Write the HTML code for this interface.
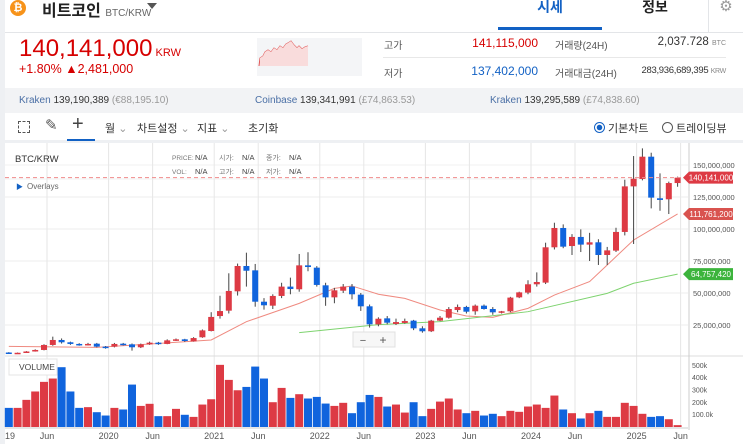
<!DOCTYPE html>
<html><head><meta charset="utf-8">
<style>
*{margin:0;padding:0;box-sizing:border-box}
body{width:743px;height:444px;overflow:hidden;background:#fff;font-family:"Liberation Sans","Noto Sans CJK KR",sans-serif;position:relative;color:#333}
.a{position:absolute;white-space:nowrap}
</style></head><body>
<div class="a" style="left:0;top:0;width:5px;height:444px;background:#eef0f3"></div>
<div class="a" style="left:5px;top:0;width:738px;height:33px;border-bottom:1px solid #e3e5e8"></div>
<div class="a" style="left:10px;top:0;width:16px;height:16px;border-radius:50%;background:#f7931a;color:#fff;font-size:11px;font-weight:bold;text-align:center;line-height:16px">₿</div>
<div class="a" style="left:42px;top:-3px;font-size:16px;font-weight:bold;color:#222">비트코인 <span style="font-size:10px;font-weight:normal;color:#666">BTC/KRW</span></div>
<div class="a" style="left:147px;top:3px;width:0;height:0;border-left:5px solid transparent;border-right:5px solid transparent;border-top:6px solid #555"></div>
<div class="a" style="left:498px;top:-3px;width:104px;height:33px;text-align:center;font-size:14px;font-weight:bold;color:#1261c4;border-bottom:3px solid #1261c4">시세</div>
<div class="a" style="left:605px;top:-3px;width:100px;text-align:center;font-size:14px;font-weight:bold;color:#222">정보</div>
<div class="a" style="left:708px;top:0;width:35px;height:33px;border-left:1px solid #e3e5e8;text-align:center;font-size:15px;color:#999;line-height:14px">⚙</div>

<div class="a" style="left:19px;top:35px;font-size:24px;color:#d60000">140,141,000<span style="font-size:11px"> KRW</span></div>
<div class="a" style="left:19px;top:62px;font-size:12.5px;color:#d60000">+1.80% ▲2,481,000</div>
<svg class="a" style="left:257px;top:38px" width="105" height="38"><rect width="105" height="38" fill="#f4f5f7"/><polyline points="2,28 3,20 6,18 8,14 11,12 14,14 17,10 20,12 23,8 26,10 29,6 31,5 34,3 37,7 40,10 42,8 45,11 48,9 51,8" fill="#fbe4e4" stroke="#e05555" stroke-width="1"/><polygon points="3,20 6,18 8,14 11,12 14,14 17,10 20,12 23,8 26,10 29,6 31,5 34,3 37,7 40,10 42,8 45,11 48,9 51,8 51,28 3,28" fill="#f9dcdc"/></svg>
<div class="a" style="left:384px;top:37px;font-size:10px;color:#555">고가</div>
<div class="a" style="left:440px;top:36px;width:98px;text-align:right;font-size:12px;color:#d60000">141,115,000</div>
<div class="a" style="left:555px;top:37px;font-size:10px;color:#555">거래량(24H)</div>
<div class="a" style="left:600px;top:36px;width:126px;text-align:right;font-size:11.5px;color:#333">2,037.728 <span style="font-size:7px;color:#888">BTC</span></div>
<div class="a" style="left:383px;top:57px;width:343px;height:1px;background:#e8e8e8"></div>
<div class="a" style="left:384px;top:65px;font-size:10px;color:#555">저가</div>
<div class="a" style="left:440px;top:64px;width:98px;text-align:right;font-size:12px;color:#1261c4">137,402,000</div>
<div class="a" style="left:555px;top:65px;font-size:10px;color:#555">거래대금(24H)</div>
<div class="a" style="left:580px;top:65px;width:146px;text-align:right;font-size:9.5px;color:#333;letter-spacing:-0.3px">283,936,689,395 <span style="font-size:7px;color:#888">KRW</span></div>

<div class="a" style="left:5px;top:88px;width:738px;height:25px;background:#f2f3f5"></div>
<div class="a" style="left:19px;top:95px;font-size:10px;color:#4a6fa5">Kraken <span style="color:#333">139,190,389</span> <span style="color:#999">(€88,195.10)</span></div>
<div class="a" style="left:255px;top:95px;font-size:10px;color:#4a6fa5">Coinbase <span style="color:#333">139,341,991</span> <span style="color:#999">(£74,863.53)</span></div>
<div class="a" style="left:490px;top:95px;font-size:10px;color:#4a6fa5">Kraken <span style="color:#333">139,295,589</span> <span style="color:#999">(£74,838.60)</span></div>

<div class="a" style="left:5px;top:113px;width:738px;height:30px;border-bottom:3px solid #eef0f3"></div>
<div class="a" style="left:18px;top:121px;width:12px;height:12px;border:1.5px dashed #555"></div>
<div class="a" style="left:45px;top:116px;font-size:15px;color:#555">✎</div>
<div class="a" style="left:72px;top:113px;font-size:20px;color:#444">+</div>
<div class="a" style="left:67px;top:139px;width:28px;height:2px;background:#1261c4"></div>
<div class="a" style="left:105px;top:120px;font-size:11px;color:#333">월 <span style="color:#999">⌄</span></div>
<div class="a" style="left:137px;top:120px;font-size:11px;color:#333">차트설정 <span style="color:#999">⌄</span></div>
<div class="a" style="left:197px;top:120px;font-size:11px;color:#333">지표 <span style="color:#999">⌄</span></div>
<div class="a" style="left:248px;top:120px;font-size:11px;color:#333">초기화</div>
<div class="a" style="left:594px;top:120px;font-size:11px;color:#333"><span style="display:inline-block;width:11px;height:11px;border:1.5px solid #1261c4;border-radius:50%;vertical-align:-1px;background:radial-gradient(#1261c4 2.5px,#fff 3px)"></span> 기본차트</div>
<div class="a" style="left:662px;top:120px;font-size:11px;color:#333"><span style="display:inline-block;width:11px;height:11px;border:1.5px solid #555;border-radius:50%;vertical-align:-1px"></span> 트레이딩뷰</div>

<svg id="chart" class="a" style="left:0;top:0" width="743" height="444"></svg>

<script>
const months = Array.from({length:77},(_,i)=>i); // Jan 2019 .. May 2025
const opens  = [3.5,2.9,3.3,4.3,5.5,9.4,13.3,11.5,10.2,9.6,10.4,8.1,8.1,10.4,9.9,7.6,9.9,11.2,10.2,13.0,13.8,12.2,15.4,20.3,32.0,36.2,51.3,71.1,67.7,43.2,40.1,47.7,55.0,52.9,71.6,69.8,56.0,46.6,51.8,55.0,48.7,39.6,25.5,30.2,25.8,26.6,28.4,22.4,20.1,28.4,30.7,36.7,39.1,35.7,40.1,37.5,34.6,35.7,46.6,50.3,56.8,58.1,85.7,100.8,86.7,93.8,87.8,89.6,79.7,83.1,97.7,133.3,139.1,156.5,124.0,123.2,135.9];
const closes = [2.9,3.3,4.3,5.5,9.4,13.3,11.5,10.2,9.6,10.2,8.1,7.0,10.2,9.9,7.6,9.9,11.2,10.2,13.0,13.8,12.5,14.8,20.8,31.3,35.9,51.6,71.1,67.4,43.2,40.4,47.7,55.0,53.1,71.6,70.3,56.3,46.6,52.1,55.0,49.0,39.6,25.5,29.9,26.8,27.3,28.1,22.4,20.1,28.4,30.7,37.5,39.1,35.4,40.1,37.5,34.9,35.7,46.4,50.5,56.8,58.6,85.7,100.8,86.2,93.8,87.8,89.6,79.7,83.3,97.7,133.3,139.3,156.5,124.5,122.7,135.9,140.1];
const highs  = [3.8,3.5,4.6,6.0,10.0,15.9,14.5,12.0,10.8,11.0,11.0,8.6,11.0,11.0,10.5,10.5,12.0,11.8,13.8,14.5,14.2,15.5,21.5,35.0,47.9,65.4,73.0,81.5,72.7,46.0,49.0,58.0,62.0,80.5,81.8,71.0,58.0,54.0,57.0,57.0,50.0,41.0,31.0,32.0,30.0,30.0,29.0,24.0,29.0,32.0,39.0,41.0,40.0,41.0,41.0,39.0,36.0,47.0,51.0,60.0,66.1,89.3,104.9,103.6,96.0,99.7,97.0,92.0,86.0,101.0,138.5,157.0,163.0,159.6,143.5,137.0,140.9];
const lows   = [2.7,2.7,3.2,4.2,5.2,8.8,10.5,9.5,8.8,9.0,7.5,6.5,7.5,9.0,5.0,7.0,9.5,9.5,10.0,12.5,11.8,12.0,15.0,20.0,30.0,34.0,48.0,55.0,39.3,37.0,37.5,46.0,49.0,51.0,67.0,55.0,40.0,42.0,50.0,45.0,36.0,23.0,24.0,25.5,25.0,26.0,21.0,19.0,19.5,28.0,30.0,35.0,34.0,33.0,37.0,33.0,34.0,35.0,46.0,49.0,55.0,57.0,84.0,85.0,79.7,82.0,75.0,71.9,71.9,82.0,95.0,88.3,138.0,116.1,114.3,111.7,133.0];
const volumes= [151,151,216,284,362,389,481,284,151,157,116,89,151,138,340,167,184,84,84,143,95,78,178,221,500,378,294,321,486,389,197,313,232,262,227,240,186,167,192,108,197,256,240,162,178,113,197,84,143,202,227,138,108,127,89,103,84,127,119,162,178,151,251,138,108,65,108,127,78,78,192,167,103,78,84,59,11];
const maRedMonths = [0,10,23,27,33,37,39,42,45,49,52,55,59,62,66,68,71,76];
const maRedValues = [8.3,7.5,13.3,27.6,41.9,53.6,55.5,49,45.8,36.7,32,31,38,48.4,58.9,71.9,91.4,111.76];
const maGreenMonths = [33,42,49,59,68,71,76];
const maGreenValues = [19,25.3,27.6,35.4,49.7,57.6,64.76];
const priceTicks = [25,50,75,100,125,150];
const volTicks = [100,200,300,400,500];
const volTickLabels = ['100.0k','200k','300k','400k','500k'];
const timeLabels = ['19','Jun','2020','Jun','2021','Jun','2022','Jun','2023','Jun','2024','Jun','2025','Jun'];
const timeLabelMonths = [0,5,12,17,24,29,36,41,48,53,60,65,72,77];
const lastPrice = 140.141;

const NS='http://www.w3.org/2000/svg';
const svg=document.getElementById('chart');
const X0=5, X1=688, PT=143, PB=355, VT=357, VB=427;
const xm=m=>8.8+8.8*m;
const xl=m=>3+8.8*m; // month boundary for labels
const yp=v=>325-(v-25)*1.28;
const yv=v=>426.5-v*0.1233;
function el(tag,attrs,parent){const e=document.createElementNS(NS,tag);for(const k in attrs)e.setAttribute(k,attrs[k]);(parent||svg).appendChild(e);return e;}
function txt(s,attrs){const t=el('text',attrs);t.textContent=s;return t;}

// panel backgrounds
let bg=el('rect',{x:X0,y:PT,width:X1-X0,height:VB-PT,fill:'#fff'});


// grid
priceTicks.forEach((v,i)=>{
  const g=el('line',{x1:X0,x2:X1,y1:yp(v),y2:yp(v),stroke:'#eeeeee'});
  
  
  const t=txt(v.toLocaleString('en-US')+',000,000',{x:693,y:yp(v)+3,'font-size':7.5,fill:'#555'});
  
  
});
[172,158].forEach(y=>{const g=el('line',{x1:X0,x2:X1,y1:y+7,y2:y+7,stroke:'#f2f2f2'});
  
  });
timeLabelMonths.forEach((m,i)=>{
  const x=xl(m)+ (i%2?0:0);
  if(i>0){const g=el('line',{x1:x,x2:x,y1:PT,y2:VB,stroke:'#e6e6e6'});
  
  }
  const t=txt(timeLabels[i],{x:x,y:439,'font-size':9,fill:'#555','text-anchor':i==0?'start':'middle'});
  if(i==0)t.setAttribute('x',5);
  
  
});
let sep=el('line',{x1:X0,x2:743,y1:PB+1,y2:PB+1,stroke:'#dddddd'});


let ax=el('line',{x1:X1+1,x2:X1+1,y1:PT,y2:VB+3,stroke:'#cccccc'});


let bx=el('line',{x1:X0,x2:X1,y1:VB+1,y2:VB+1,stroke:'#cccccc'});



// volume ticks
volTicks.forEach((v,i)=>{
  const t=txt(volTickLabels[i],{x:692,y:yv(v)+3,'font-size':7,fill:'#555'});
  
  
});
// volume bars
volumes.forEach((v,i)=>{
  const up=closes[i]>=opens[i];
  const r=el('rect',{x:xm(i)-4,y:yv(v),width:8,height:VB-yv(v),fill:up?'#dd3a44':'#1064dd'});
  
  
});

// MA lines
function maLine(ms,vs,color,name){
  const p=el('polyline',{points:ms.map((m,i)=>xm(m)+','+yp(vs[i])).join(' '),fill:'none',stroke:color,'stroke-width':1});
  
  
}
maLine(maRedMonths,maRedValues,'#ef8a80','ma-short-line');
maLine(maGreenMonths,maGreenValues,'#7ed36f','ma-long-line');

// candles
months.forEach(i=>{
  const up=closes[i]>=opens[i], c=up?'#dd3a44':'#1064dd';
  const w=el('line',{x1:xm(i),x2:xm(i),y1:yp(highs[i]),y2:yp(lows[i]),stroke:'#444','stroke-width':1});
  
  
  const top=yp(Math.max(opens[i],closes[i])), bot=yp(Math.min(opens[i],closes[i]));
  const b=el('rect',{x:xm(i)-3,y:top,width:6,height:Math.max(1.5,bot-top),fill:c});
  
  
});

// last price dashed line
let dl=el('line',{x1:X0,x2:X1,y1:yp(lastPrice),y2:yp(lastPrice),stroke:'#f08a8a','stroke-dasharray':'4,3'});


function tag(v,color,label,name){
  const y=yp(v);
  const p=el('path',{d:`M683,${y} L689,${y-6} L733,${y-6} L733,${y+6} L689,${y+6} Z`,fill:color});
  
  
  const t=txt(label,{x:711,y:y+3,'font-size':8,fill:'#fff','text-anchor':'middle'});
  
  
}
tag(lastPrice,'#dd3a44','140,141,000','last-price-tag');
tag(maRedValues[maRedValues.length-1],'#d9534f','111,761,200','ma-short-tag');
tag(maGreenValues[maGreenValues.length-1],'#3cb43c','64,757,420','ma-long-tag');

// legend text
let t1=txt('BTC/KRW',{x:15,y:162,'font-size':9.5,fill:'#333'});


[['PRICE:',172,160],['VOL:',172,174]].forEach(a=>{const t=txt(a[0],{x:a[1],y:a[2],'font-size':6.5,fill:'#777'});
  
  });
[['시가:',219,160],['종가:',266,160],['고가:',219,174],['저가:',266,174]].forEach(a=>{const t=txt(a[0],{x:a[1],y:a[2],'font-size':7,fill:'#777'});
  
  });
[[195,160],[242,160],[289,160],[195,174],[242,174],[289,174]].forEach(a=>{const t=txt('N/A',{x:a[0],y:a[1],'font-size':7.5,fill:'#444'});
  
  });
let ov=txt('▶',{x:16,y:189,'font-size':7,fill:'#1261c4'});


let ov2=txt('Overlays',{x:27,y:189,'font-size':8,fill:'#666'});


// zoom control
let zc=el('rect',{x:353,y:332,width:42,height:15,fill:'#f7f7f7',stroke:'#e0e0e0'});


let zo=txt('−',{x:363,y:344,'font-size':11,fill:'#555','text-anchor':'middle'});


let zi=txt('+',{x:383,y:344,'font-size':12,fill:'#555','text-anchor':'middle'});


// volume label
let vb=el('rect',{x:9,y:359,width:48,height:16,fill:'#fff',stroke:'#e4e4e4'});


let vl=txt('VOLUME',{x:19,y:370,'font-size':8.5,fill:'#444'});


</script>
</body></html>
